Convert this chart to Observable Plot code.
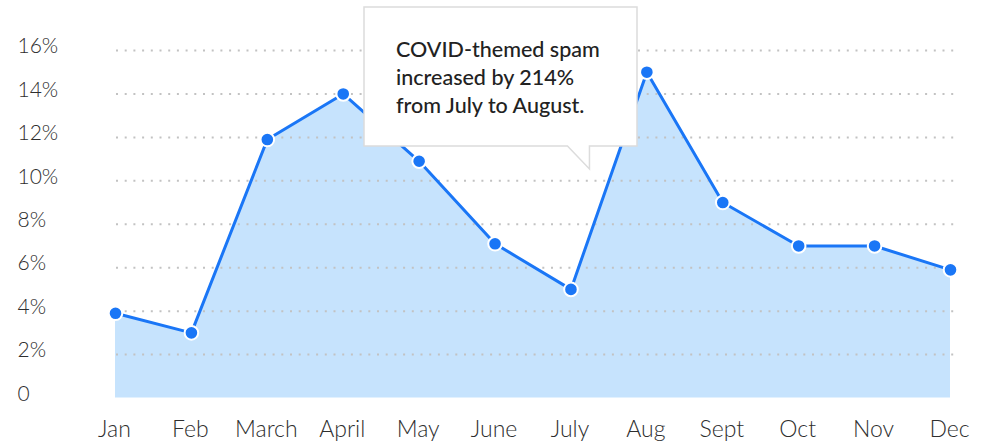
<!DOCTYPE html>
<html>
<head>
<meta charset="utf-8">
<script src="https://cdn.jsdelivr.net/npm/d3@7"></script>
<script src="https://cdn.jsdelivr.net/npm/@observablehq/plot@0.6"></script>
<style>
  html, body { margin: 0; padding: 0; background: #fff; }
  #chart { width: 991px; height: 444px; }
</style>
</head>
<body>
<div id="chart"></div>
<script>
const months = ["Jan", "Feb", "March", "April", "May", "June", "July", "Aug", "Sept", "Oct", "Nov", "Dec"];
const spamShare = [3.9, 3.0, 11.9, 14.0, 10.9, 7.1, 5.0, 15.0, 9.0, 7.0, 7.0, 5.9];
const yTicks = [0, 2, 4, 6, 8, 10, 12, 14, 16];
const calloutLines = ["COVID-themed spam", "increased by 214%", "from July to August."];

(function () {
  const data = months.map((m, i) => ({month: m, value: spamShare[i]}));
  const fmt = d => d === 0 ? "0" : d + "%";

  const blue = "#1a76f6";
  const areaFill = "#c6e3fd";
  const labelColor = "#2e2e2e";

  const plot = Plot.plot({
    width: 991,
    height: 444,
    marginLeft: 115,
    marginRight: 41,
    marginTop: 50,
    marginBottom: 46.5,
    x: {type: "point", domain: months, padding: 0, round: false, axis: null},
    y: {domain: [0, 16], axis: null},
    style: {fontFamily: "Lato, sans-serif", fontSize: "21px", color: labelColor, background: "#fff"},
    marks: [
      Plot.areaY(data, {x: "month", y: "value", fill: areaFill, curve: "linear"}),
      Plot.ruleY(yTicks.filter(d => d > 0), {stroke: "#c2c2c2", strokeWidth: 2, strokeDasharray: "2 6.7", insetLeft: 1, insetRight: -5}),
      Plot.lineY(data, {x: "month", y: "value", stroke: blue, strokeWidth: 3}),
      Plot.dot(data, {x: "month", y: "value", r: 6.8, fill: blue, stroke: "#fff", strokeWidth: 2}),
      Plot.text(months, {x: d => d, text: d => d, frameAnchor: "bottom", lineAnchor: "middle", dy: 32, dx: -1, fontSize: 23, fontWeight: 300, fill: labelColor}),
      Plot.text(yTicks, {y: d => d, text: fmt, frameAnchor: "left", textAnchor: "start", lineAnchor: "middle", dx: -98, dy: -4, fontSize: 21, fontWeight: 300, fill: labelColor})
    ]
  });

  document.getElementById("chart").appendChild(plot);

  // Callout annotation
  const svg = d3.select(plot);
  const xs = plot.scale("x");
  const tipX = xs.apply("July") + 19;
  const tipY = 169;
  const bx0 = 364, bx1 = 637, by0 = 7, by1 = 146;
  const g = svg.append("g");
  g.append("path")
    .attr("d", `M${bx0},${by0}H${bx1}V${by1}H${tipX}V${tipY}L${tipX - 22},${by1}H${bx0}Z`)
    .attr("fill", "#fff")
    .attr("stroke", "#dcdcdc")
    .attr("stroke-width", 1.5);
  const t = g.append("text")
    .attr("font-family", "Lato, sans-serif")
    .attr("font-size", 21.5)
    .attr("font-weight", 500)
    .attr("text-anchor", "start")
    .attr("fill", "#222");
  calloutLines.forEach((line, i) => {
    t.append("tspan").attr("x", 396).attr("y", 57 + i * 28).text(line);
  });
})();
</script>
</body>
</html>
